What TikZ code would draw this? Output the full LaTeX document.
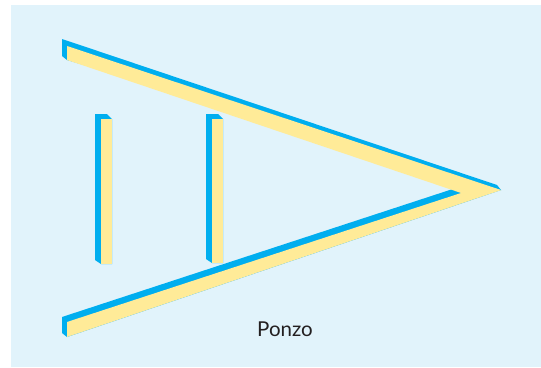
\documentclass[tikz,border=0pt]{standalone}
\usepackage{fontspec}
\setmainfont{Lato}
\usepackage{tikz}
\definecolor{PzBack}{HTML}{E1F3FB}
\definecolor{PzBlue}{HTML}{00AEEF}
\definecolor{PzYellow}{HTML}{FFEB98}
\definecolor{PzText}{HTML}{231F20}
\newcommand{\PzTipx}{501}
\newcommand{\PzTipy}{190}
\tikzset{
  barside/.style={fill=PzBlue,draw=none},
  barface/.style={fill=PzYellow,draw=none},
  caption/.style={font=\fontsize{20.5}{24}\selectfont,text=PzText,inner sep=0pt}
}
\newcommand{\DrawUprightBar}[3]{%
  \fill[barside] (#1-6,#2-5) -- (#1+6,#2-5) -- (#1+11,#2) -- (#1+11,#3)
    -- (#1,#3) -- (#1-6,#3-4) -- cycle;
  \fill[barface] (#1,#2) rectangle (#1+11,#3);
}

\begin{document}
\begin{tikzpicture}[x=1pt,y=-1pt]
  \useasboundingbox (0,0) rectangle (541,367);
  \fill[PzBack] (11,5) rectangle (541,367);

  % lower bar
  \fill[barside] (62,317) -- (468,184) -- (\PzTipx,\PzTipy) -- (67,337)
    -- (62,333) -- cycle;
  \fill[barface] (67,322) -- (461,193) -- (\PzTipx,\PzTipy) -- (67,337) -- cycle;

  % upper bar
  \fill[barside] (62,39) -- (497,185) -- (\PzTipx,\PzTipy) -- (67,60)
    -- (62,56) -- cycle;
  \fill[barface] (67,46) -- (\PzTipx,\PzTipy) -- (476,198) -- (67,60) -- cycle;

  % the two equal uprights
  \DrawUprightBar{101}{119}{264}
  \DrawUprightBar{212}{119}{263}

  \node[caption,anchor=base] (label) at (285,336) {Ponzo};
\end{tikzpicture}
\end{document}
